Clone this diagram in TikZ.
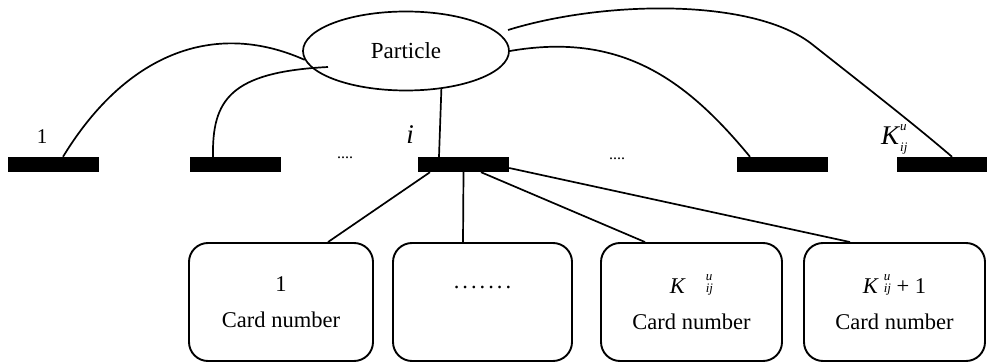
\documentclass[tikz,border=0pt]{standalone}
\usepackage{fontspec}
\setmainfont{Liberation Serif}
\usetikzlibrary{shapes.geometric}
\newcommand{\fs}[1]{\fontsize{#1}{#1}\selectfont}
\newcommand{\supsub}[3]{{\fs{#1}\itshape\rlap{\raisebox{#2}{u}}\raisebox{#3}{ij}}}
\newcommand{\dotsrow}{.\kern3pt.\kern3pt.\kern3pt.\kern3pt.\kern3pt.\kern3pt.}
\begin{document}
\begin{tikzpicture}[x=1pt,y=-1pt,
  conn/.style={line width=1.7pt},
  bar/.style={fill=black,draw=none,minimum width=91pt,minimum height=15pt,inner sep=0pt},
  card/.style={draw,line width=1.9pt,rounded corners=19pt,minimum width=181pt,
    minimum height=118pt,inner sep=0pt,align=center,font=\fs{22.5}},
  lbl/.style={inner sep=0pt}
]
\useasboundingbox (0,0) rectangle (987,363);

% particle
\node[ellipse,draw,line width=1.7pt,minimum width=206pt,minimum height=79pt,
  inner sep=0pt,font=\fs{23}] (P) at (406,51) {Particle};

% bars
\node[bar] (b1) at (53.5,164.5) {};
\node[bar] (b2) at (235.5,164.5) {};
\node[bar] (b3) at (463.5,164.5) {};
\node[bar] (b4) at (782.5,164.5) {};
\node[bar] (b5) at (942.5,164.5) {};

% labels
\node[lbl,font=\fs{21}] (l1) at (42,137) {1};
\node[lbl,font=\fs{27}\itshape] (li) at (410,135) {i};
\node[lbl,font=\fs{16}] (d1) at (345,158) {....};
\node[lbl,font=\fs{16}] (d2) at (617,159) {....};
\node[lbl,font=\fs{27}\itshape,anchor=base west] (lk) at (881,145) {K\kern1pt\supsub{13}{14pt}{-7pt}};

% cards
\node[card,minimum width=184pt] (c1) at (281,302) {1\\[14pt]Card number};
\node[card,minimum width=179pt] (c2) at (482.5,302) {\raisebox{-5pt}{\dotsrow}\\[14pt]\phantom{Card number}};
\node[card] (c3) at (691.5,302) {\textit{K}\kern20pt\supsub{13}{13pt}{1pt}\\[14pt]Card number};
\node[card] (c4) at (894.5,302) {\textit{K}\kern5pt\supsub{13}{13pt}{1pt} + 1\\[14pt]Card number};

% connectors particle -> bars
\coordinate (p2) at (328,67);
\coordinate (p5) at (508,30);
\coordinate (k5) at (813,45);
\draw[conn] ([xshift=9.5pt]b1.north) .. controls (125,55) and (213,19) .. (P.185);
\draw[conn] ([xshift=-22.5pt]b2.north) .. controls (212,100) and (230,72) .. (p2);
\draw[conn] (P.-47) -- ([xshift=-24.5pt]b3.north);
\draw[conn] (P.east) .. controls (620,32) and (685,78) .. ([xshift=-32.5pt]b4.north);
\draw[conn] (p5) .. controls (605,0) and (755,-2) .. (k5)
  .. controls (870,90) and (915,125) .. ([xshift=9.5pt]b5.north);

% bar i -> cards
\draw[conn] ([xshift=-33.5pt]b3.south) -- ([xshift=47pt]c1.north);
\draw[conn] (b3.south) -- ([xshift=-19.5pt]c2.north);
\draw[conn] ([xshift=17.5pt]b3.south) -- ([xshift=-46.5pt]c3.north);
\draw[conn] ([yshift=-3.5pt]b3.east) -- ([xshift=-44.5pt]c4.north);
\end{tikzpicture}
\end{document}
